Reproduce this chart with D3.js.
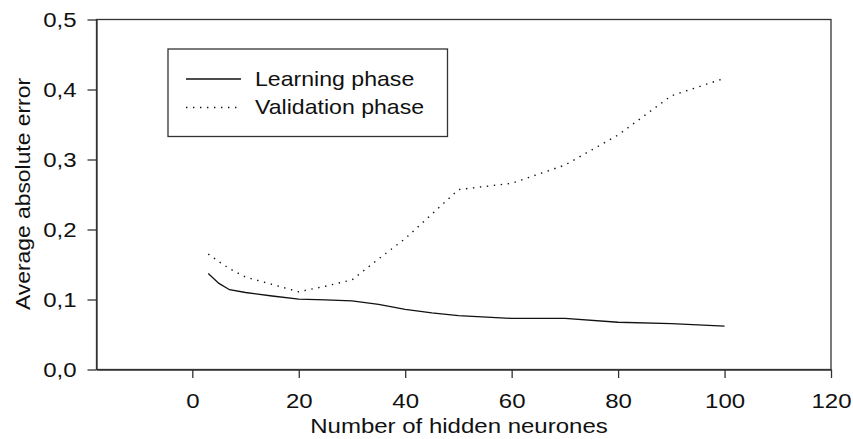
<!DOCTYPE html>
<html><head><meta charset="utf-8">
<script src="https://cdn.jsdelivr.net/npm/d3@7"></script>
<style>
html,body{margin:0;padding:0;background:#fff;}
svg{display:block;font-family:"Liberation Sans",Arial,sans-serif;}
</style></head>
<body>
<svg id="chart" width="853" height="439"></svg>
<script>
// ---- data ----
const neurones = [3,5,7,10,15,20,25,30,35,40,45,50,60,70,80,90,100];
const learningPhase = [0.137,0.123,0.114,0.110,0.105,0.1005,0.0995,0.098,0.093,0.086,0.081,0.077,0.073,0.073,0.0675,0.0655,0.062];
const validationPhase = [0.165,0.154,0.144,0.132,0.1216,0.111,0.119,0.128,0.158,0.187,0.222,0.257,0.266,0.292,0.335,0.391,0.416];
const xTicks = [0,20,40,60,80,100,120];
const xTickLabels = ["0","20","40","60","80","100","120"];
const yTicks = [0,0.1,0.2,0.3,0.4,0.5];
const yTickLabels = ["0,0","0,1","0,2","0,3","0,4","0,5"];
const seriesNames = ["Learning phase","Validation phase"];
const xTitle = "Number of hidden neurones";
const yTitle = "Average absolute error";

// ---- layout ----
const svg = d3.select("#chart");
const L = 96.5, R = 831, T = 19.5, B = 369.5;
const x = d3.scaleLinear().domain([-18,120]).range([L,R]);
const y = d3.scaleLinear().domain([0,0.5]).range([B,T]);
const ink = "#111", frame = "#333";
const hStretch = 1.2;

function stretch(sel, factor){
  sel.each(function(){
    const w = this.getComputedTextLength();
    d3.select(this).attr("textLength", w*factor).attr("lengthAdjust","spacingAndGlyphs");
  });
}

// frame
svg.append("rect").attr("x",L).attr("y",T).attr("width",R-L).attr("height",B-T)
  .attr("fill","none").attr("stroke",frame).attr("stroke-width",1.3);

// axes
const yAxis = d3.axisLeft(y).tickValues(yTicks).tickFormat((d,i)=>yTickLabels[i])
  .tickSize(9).tickSizeOuter(0).tickPadding(11);
const gy = svg.append("g").attr("transform",`translate(${L},0)`).call(yAxis);
const xAxis = d3.axisBottom(x).tickValues(xTicks).tickFormat((d,i)=>xTickLabels[i])
  .tickSize(8.5).tickSizeOuter(0).tickPadding(16);
const gx = svg.append("g").attr("transform",`translate(0,${B})`).call(xAxis);
[gx,gy].forEach(g=>{
  g.select(".domain").attr("stroke",frame).attr("stroke-width",1.3);
  g.selectAll(".tick line").attr("stroke",frame).attr("stroke-width",1.3);
  g.selectAll(".tick text").attr("font-size",20).attr("fill",ink)
    .attr("font-family","'Liberation Sans',Arial,sans-serif");
});
gy.selectAll(".tick text").attr("dy","0.36em");
stretch(gx.selectAll(".tick text"), hStretch);
stretch(gy.selectAll(".tick text"), hStretch);

// titles
svg.append("text").attr("x",(87+R)/2).attr("y",433).attr("text-anchor","middle")
  .attr("font-size",20).attr("fill",ink).text(xTitle)
  .call(s=>stretch(s,hStretch));
svg.append("text").attr("transform",`translate(30,194) rotate(-90)`).attr("text-anchor","middle")
  .attr("font-size",21).attr("fill",ink).text(yTitle)
  .call(s=>s.attr("textLength",232).attr("lengthAdjust","spacingAndGlyphs"));

// lines
const lineGen = vals => d3.line().x((d,i)=>x(neurones[i])).y(d=>y(d))(vals);
svg.append("path").attr("d",lineGen(learningPhase)).attr("fill","none")
  .attr("stroke","#111").attr("stroke-width",1.3);
svg.append("path").attr("d",lineGen(validationPhase)).attr("fill","none")
  .attr("stroke","#111").attr("stroke-width",1.4).attr("stroke-dasharray","1.4,5.6");

// legend
const lg = svg.append("g");
lg.append("rect").attr("x",168).attr("y",49).attr("width",279.5).attr("height",87.5)
  .attr("fill","#fff").attr("stroke",frame).attr("stroke-width",1.3);
const legY = [79,107.5];
const dashes = [null,"1.4,5.6"];
seriesNames.forEach((name,i)=>{
  lg.append("line").attr("x1",186).attr("x2",241).attr("y1",legY[i]).attr("y2",legY[i])
    .attr("stroke","#111").attr("stroke-width",1.3).attr("stroke-dasharray",dashes[i]);
  lg.append("text").attr("x",255).attr("y",legY[i]+6.5).attr("font-size",21).attr("fill",ink)
    .text(name).call(s=>stretch(s,1.1));
});
</script>
</body></html>
